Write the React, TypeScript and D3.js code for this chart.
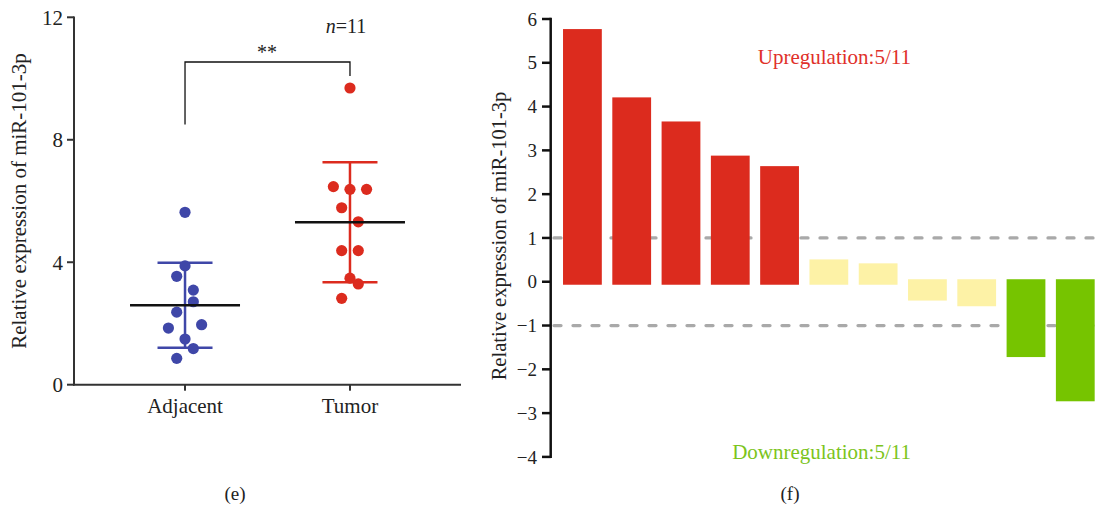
import React from 'react';
import * as d3 from 'd3';

// panel (e): scatter
const groups = ['Adjacent', 'Tumor'];
const adjacent = [0.86, 1.18, 1.85, 1.49, 1.96, 2.37, 2.71, 3.54, 3.09, 3.88, 5.63];
const tumor = [2.82, 3.29, 3.48, 4.38, 4.38, 5.78, 5.32, 6.47, 6.38, 6.38, 9.69];
const leftTicks = [0, 4, 8, 12];

// panel (f): waterfall of the 11 samples
const samples = ['1', '2', '3', '4', '5', '6', '7', '8', '9', '10', '11'];
const foldChange = [5.77, 4.21, 3.66, 2.88, 2.64, 0.51, 0.42, -0.43, -0.56, -1.72, -2.73];
const rightTicks = [6, 5, 4, 3, 2, 1, 0, -1, -2, -3, -4];
const cutoffs = [1, -1];

const FONT = '"Liberation Serif", "DejaVu Serif", serif';
const BLUE = '#3f47a8';
const RED = '#dc2b1e';
const YELLOW = '#fdf2a6';
const GREEN = '#76c400';

// Prism-like scatter: points close in value share a row and get spread sideways
function swarm(values: number[], y: (v: number) => number, near: number, spacing: number) {
  const idx = values.map((v, i) => i).sort((a, b) => values[a] - values[b] || a - b);
  const out = new Array(values.length).fill(0);
  let i = 0;
  while (i < idx.length) {
    const start = y(values[idx[i]]);
    let j = i;
    while (j + 1 < idx.length && Math.abs(y(values[idx[j + 1]]) - start) < near) j++;
    const row = idx.slice(i, j + 1).sort((a, b) => a - b);
    row.forEach((k, n) => { out[k] = (n - (row.length - 1) / 2) * spacing; });
    i = j + 1;
  }
  return out;
}

function ScatterPanel() {
  const y = d3.scaleLinear().domain([0, 12]).range([384.7, 17.3]);
  const x = d3.scalePoint<string>().domain(groups).range([74, 461]).padding(0.673);
  const sets = [adjacent, tumor];
  const colors = [BLUE, RED];

  return (
    <g>
      {/* axes */}
      <line x1={74} x2={74} y1={16.5} y2={385.5} stroke="#333" strokeWidth={2} />
      <line x1={73} x2={461} y1={384.7} y2={384.7} stroke="#333" strokeWidth={2} />
      {leftTicks.map(t => (
        <g key={t} transform={`translate(0,${y(t)})`}>
          <line x1={67} x2={74} stroke="#333" strokeWidth={2} />
          <text x={63} dy="0.35em" textAnchor="end" fontSize={21} fontFamily={FONT} fill="#222">{t}</text>
        </g>
      ))}
      {groups.map(g => (
        <g key={g} transform={`translate(${x(g)},384.7)`}>
          <line y1={0} y2={6} stroke="#333" strokeWidth={2} />
          <text y={28} textAnchor="middle" fontSize={21} fontFamily={FONT} fill="#222">{g}</text>
        </g>
      ))}
      <text transform="translate(26,201) rotate(-90)" textAnchor="middle" fontSize={21} fontFamily={FONT} fill="#222">
        Relative expression of miR-101-3p
      </text>

      {sets.map((vals, gi) => {
        const cx = x(groups[gi]) as number;
        const m = d3.mean(vals) as number;
        const sd = d3.deviation(vals) as number;
        const offs = swarm(vals, y, 15.5, 16.6);
        return (
          <g key={gi}>
            <line x1={cx} x2={cx} y1={y(m + sd)} y2={y(m - sd)} stroke={colors[gi]} strokeWidth={2.5} />
            <line x1={cx - 27.5} x2={cx + 27.5} y1={y(m + sd)} y2={y(m + sd)} stroke={colors[gi]} strokeWidth={2.5} />
            <line x1={cx - 27.5} x2={cx + 27.5} y1={y(m - sd)} y2={y(m - sd)} stroke={colors[gi]} strokeWidth={2.5} />
            {vals.map((v, i) => (
              <circle key={i} cx={cx + offs[i]} cy={y(v)} r={5.6} fill={colors[gi]} />
            ))}
            <line x1={cx - 55} x2={cx + 55} y1={y(m)} y2={y(m)} stroke="#111" strokeWidth={2.6} />
          </g>
        );
      })}

      {/* significance bracket */}
      <path
        d={`M${x('Adjacent')},${y(8.5)}V62H${x('Tumor')}V76`}
        fill="none" stroke="#111" strokeWidth={1.3}
      />
      <text x={267} y={59} textAnchor="middle" fontSize={20} fontFamily={FONT} fill="#222">**</text>
      <text x={346} y={33} textAnchor="middle" fontSize={20} fontFamily={FONT} fill="#222">
        <tspan fontStyle="italic">n</tspan>=11
      </text>
      <text x={235} y={500} textAnchor="middle" fontSize={19} fontFamily={FONT} fill="#222">(e)</text>
    </g>
  );
}

function WaterfallPanel() {
  const y = d3.scaleLinear().domain([-4, 6]).range([456.9, 19]);
  const x = d3.scaleBand<string>().domain(samples).range([550.7, 1107]).paddingInner(0.213).paddingOuter(0.25);
  const color = (v: number) => (v >= 1 ? RED : v <= -1 ? GREEN : YELLOW);
  const y0 = y(0);

  return (
    <g>
      {cutoffs.map(c => (
        <line key={c} x1={554} x2={1099} y1={y(c)} y2={y(c)}
          stroke="#a9a9a9" strokeWidth={3.3} strokeDasharray="7,12" strokeLinecap="round" />
      ))}
      {samples.map((s, i) => {
        const v = foldChange[i];
        const top = v >= 0 ? y(v) : y0 - 2.5;
        const bottom = v >= 0 ? y0 + 3 : y(v);
        return <rect key={s} x={x(s)} y={top} width={x.bandwidth()} height={bottom - top} fill={color(v)} />;
      })}

      <line x1={550.7} x2={550.7} y1={17.8} y2={458} stroke="#111" strokeWidth={2.5} />
      {rightTicks.map(t => (
        <g key={t} transform={`translate(0,${y(t)})`}>
          <line x1={542} x2={550.7} stroke="#111" strokeWidth={2.5} />
          <text x={537} dy="0.35em" textAnchor="end" fontSize={19} fontFamily={FONT} fill="#222">
            {t < 0 ? `\u2212${-t}` : t}
          </text>
        </g>
      ))}
      <text transform="translate(506,236) rotate(-90)" textAnchor="middle" fontSize={20.5} fontFamily={FONT} fill="#222">
        Relative expression of miR-101-3p
      </text>

      <text x={911} y={64} textAnchor="end" fontSize={21} fontFamily={FONT} fill="#e0302a">Upregulation:5/11</text>
      <text x={911} y={459} textAnchor="end" fontSize={21} fontFamily={FONT} fill="#7cc41c">Downregulation:5/11</text>
      <text x={790} y={500} textAnchor="middle" fontSize={19} fontFamily={FONT} fill="#222">(f)</text>
    </g>
  );
}

export default function App() {
  return (
    <svg width={1099} height={506} style={{ position: 'absolute', left: 0, top: 0, background: '#fff' }}>
      <ScatterPanel />
      <WaterfallPanel />
    </svg>
  );
}
